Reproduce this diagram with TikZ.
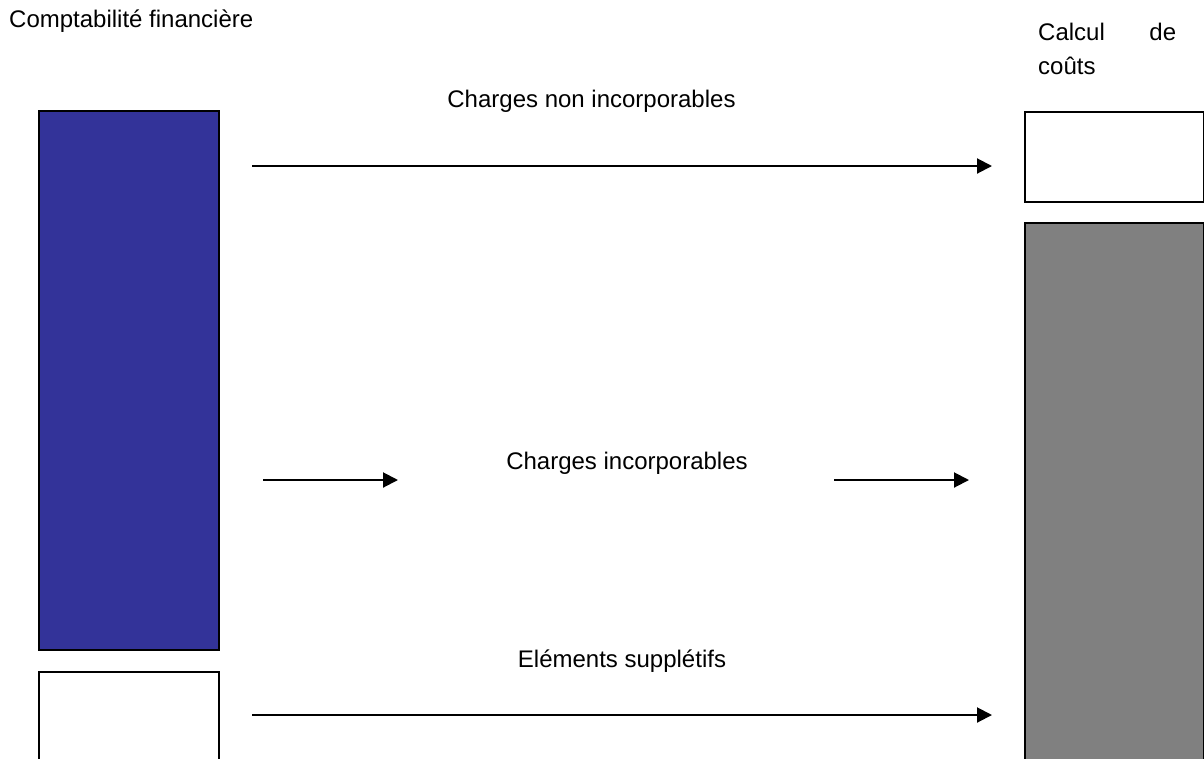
\documentclass[tikz,border=0pt]{standalone}
\usepackage{fontspec}
\setmainfont{Liberation Sans}
\usetikzlibrary{arrows.meta}
\definecolor{accblue}{RGB}{51,51,153}
\definecolor{costgray}{RGB}{128,128,128}
\begin{document}
\begin{tikzpicture}[x=1pt,y=-1pt,
  lbl/.style={inner sep=0pt,font=\fontsize{24}{34}\selectfont},
  block/.style={draw=black,line width=2pt,inner sep=0pt,anchor=north west},
  flow/.style={line width=2pt,-{Triangle[length=15pt,width=15pt]}}]
  \clip (0,0) rectangle (1204,758);
  \fill[white] (0,0) rectangle (1204,758);

  % left column: financial accounting
  \node[lbl,anchor=base west] (fin) at (9,27) {Comptabilité financière};
  \node[block,fill=accblue,minimum width=180pt,minimum height=539pt] (incl) at (38,110) {};
  \node[block,fill=white,minimum width=180pt,minimum height=110pt] (supl) at (38,671) {};

  % right column: cost calculation
  \node[lbl,anchor=base west,text width=138pt,align=justify] (calc) at (1038,40) {Calcul de coûts};
  \node[block,fill=white,minimum width=179pt,minimum height=90pt] (nonr) at (1024,111) {};
  \node[block,fill=costgray,minimum width=179pt,minimum height=560pt] (incr) at (1024,222) {};

  % flow labels
  \node[lbl,anchor=base] (tnon) at (591.5,107) {Charges non incorporables};
  \node[lbl,anchor=base] (tinc) at (627,469) {Charges incorporables};
  \node[lbl,anchor=base] (tsup) at (622,667) {Eléments supplétifs};

  % arrow end points
  \coordinate (a1s) at (252,166);  \coordinate (a1e) at (992,166);
  \coordinate (a2s) at (263,480);  \coordinate (a2e) at (398,480);
  \coordinate (a3s) at (834,480);  \coordinate (a3e) at (969,480);
  \coordinate (a4s) at (252,715);  \coordinate (a4e) at (992,715);

  \draw[flow] (a1s) -- (a1e);
  \draw[flow] (a2s) -- (a2e);
  \draw[flow] (a3s) -- (a3e);
  \draw[flow] (a4s) -- (a4e);
\end{tikzpicture}
\end{document}
